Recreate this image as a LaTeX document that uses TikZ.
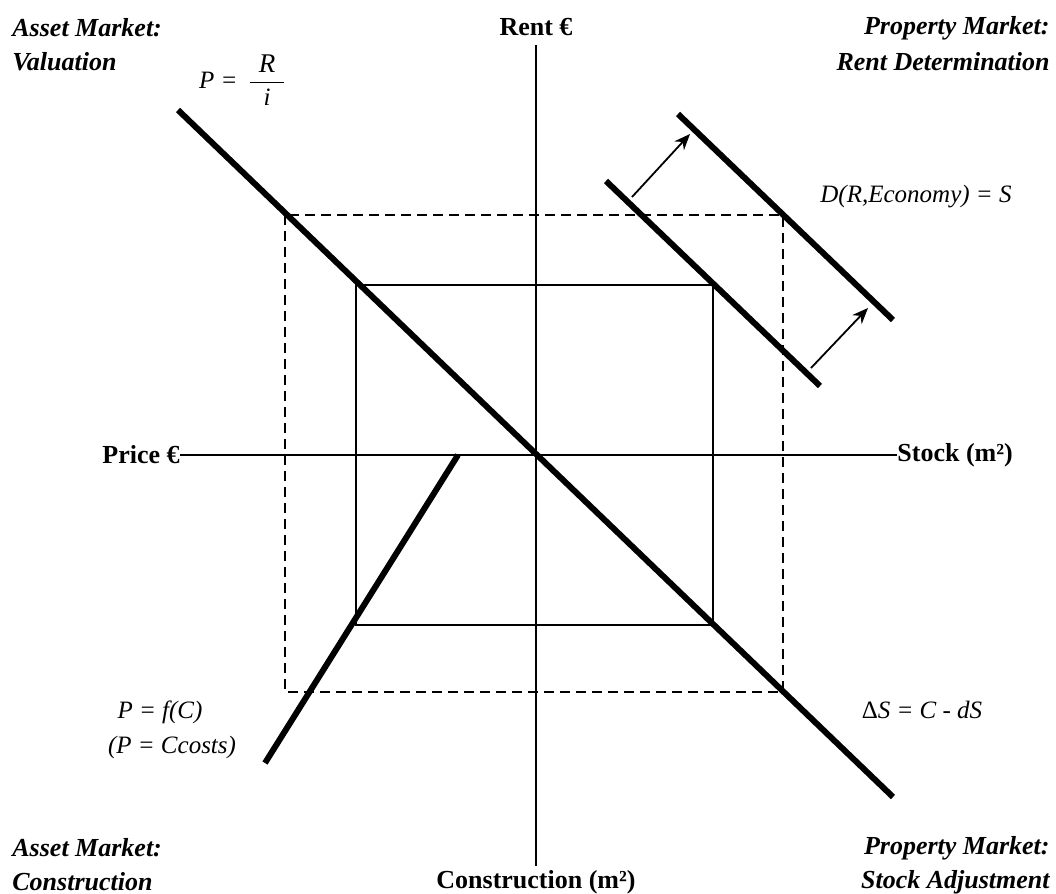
\documentclass[tikz,border=0pt]{standalone}
\usepackage{fontspec}
\setmainfont{Liberation Serif}
\usetikzlibrary{arrows.meta}
\begin{document}
\begin{tikzpicture}[x=0.5pt,y=-0.5pt,
  every node/.style={inner sep=0pt,font=\fontsize{13}{15}\selectfont},
  axis/.style={line width=1.2pt},
  curve/.style={line width=3pt},
  box/.style={line width=1.1pt},
  dbox/.style={line width=1.1pt,dash pattern=on 5pt off 3pt},
  shiftarrow/.style={line width=0.9pt,-{Stealth[length=8pt,width=6.5pt]}},
  corner/.style={font=\fontsize{13}{17}\selectfont\bfseries\itshape,align=left},
  axlab/.style={font=\fontsize{13}{15}\selectfont\bfseries},
  eq/.style={font=\fontsize{12.5}{15}\selectfont\itshape}]
\useasboundingbox (0,0) rectangle (1056,894);
% corner labels
\node[corner,anchor=west] (tl1) at (12,28) {Asset Market:};
\node[corner,anchor=west] (tl2) at (12,62) {Valuation};
\node[corner,anchor=east] (tr1) at (1050,28) {Property Market:};
\node[corner,anchor=east] (tr2) at (1050,62) {Rent Determination};
\node[corner,anchor=west] (bl1) at (12,848) {Asset Market:};
\node[corner,anchor=west] (bl2) at (12,882) {Construction};
\node[corner,anchor=east] (br1) at (1050,848) {Property Market:};
\node[corner,anchor=east] (br2) at (1050,882) {Stock Adjustment};
% axis labels
\node[axlab] (rent) at (536,27) {Rent €};
\node[axlab] (constr) at (536,882) {Construction (m²)};
\node[axlab,anchor=east] (price) at (180,455) {Price €};
\node[axlab,anchor=west] (stock) at (897,455) {Stock (m²)};
% axes
\coordinate (vtop) at (536,45);
\coordinate (vbot) at (536,866);
\draw[axis] (vtop) -- (vbot);
\draw[axis] (price.east) -- (stock.west);
% rectangles
\coordinate (d1) at (285,215);
\coordinate (d2) at (783,692);
\draw[dbox] (d1) rectangle (d2);
\coordinate (s1) at (356,285);
\coordinate (s2) at (713,625);
\draw[box] (s1) rectangle (s2);
% valuation / stock adjustment line
\coordinate (m1) at (178,110);
\coordinate (m2) at (893,797);
\draw[curve] (m1) -- (m2);
% construction line
\coordinate (c1) at (458,455);
\coordinate (c2) at (265,763);
\draw[curve] (c1) -- (c2);
% demand lines
\coordinate (a1) at (606,181);
\coordinate (a2) at (820,386);
\draw[curve] (a1) -- (a2);
\coordinate (b1) at (678,114);
\coordinate (b2) at (893,320);
\draw[curve] (b1) -- (b2);
% shift arrows
\coordinate (p1) at (632,197);
\coordinate (p2) at (690,134);
\draw[shiftarrow] (p1) -- (p2);
\coordinate (q1) at (811,368);
\coordinate (q2) at (868,308);
\draw[shiftarrow] (q1) -- (q2);
% equations
\node[eq,anchor=east] (peq) at (238,80) {P =};
\node[eq] (pfrac) at (267,80) {$\displaystyle\frac{\makebox[17pt]{\fontsize{13.5}{15}\selectfont\textit{R}}\vphantom{p}}{\makebox[17pt]{\textit{i}}}$};
\node[eq] (deq) at (916,197) {D(R,Economy) = S};
\node[eq] (seq) at (922,710) {{\upshape Δ}S = C - dS};
\node[eq] (feq) at (160,712) {P = f(C)};
\node[eq] (ceq) at (172,747) {(P = Ccosts)};
\end{tikzpicture}
\end{document}
